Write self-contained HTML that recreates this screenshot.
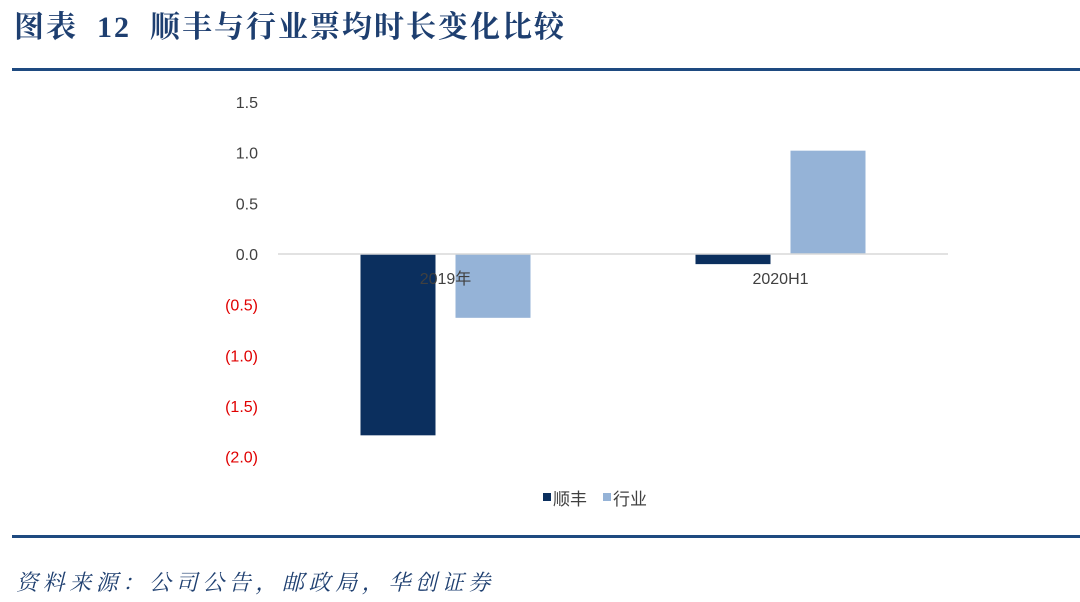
<!DOCTYPE html>
<html><head><meta charset="utf-8"><style>
body{margin:0;width:1080px;height:602px;background:#fff;overflow:hidden;position:relative;font-family:"Liberation Sans","Noto Sans CJK SC",sans-serif}
#title{position:absolute;left:14px;top:2px;font:bold 30px "Liberation Serif","Noto Serif CJK SC",serif;color:#1e3f70;white-space:pre;letter-spacing:2px}
.rule{position:absolute;left:12px;right:0;background:#1e4a80}
#src{position:absolute;left:16px;top:566px;font:italic 22px "Liberation Serif","Noto Serif CJK SC",serif;color:#1e3f70;white-space:nowrap;letter-spacing:4.6px}
</style></head><body>
<div id="title">图表  12  顺丰与行业票均时长变化比较</div>
<div class="rule" style="top:68px;height:3px"></div>
<svg id="chart" width="1080" height="602" style="position:absolute;left:0;top:0"></svg>
<div class="rule" style="top:535px;height:3px"></div>
<div id="src">资料来源：公司公告，邮政局，华创证券</div>
<script>
const categories=["2019年","2020H1"];
const sfValues=[-1.79,-0.10];
const industryValues=[-0.63,1.02];
const tickValues=[1.5,1.0,0.5,0.0,-0.5,-1.0,-1.5,-2.0];
const tickLabels=["1.5","1.0","0.5","0.0","(0.5)","(1.0)","(1.5)","(2.0)"];
const seriesNames=["顺丰","行业"];
const NS="http://www.w3.org/2000/svg";
const svg=document.getElementById('chart');
const x0=278,x1=948,zeroY=254,pxPerUnit=101.3;
const y=v=>zeroY-v*pxPerUnit;
const bandW=(x1-x0)/categories.length;
const colors=["#0b2f5e","#95b3d7"];
function mk(t,a){const e=document.createElementNS(NS,t);for(const k in a)e.setAttribute(k,a[k]);svg.appendChild(e);return e;}
tickValues.forEach((v,i)=>{
 const t=mk('text',{x:258,y:y(v)+6,'text-anchor':'end','font-size':16,fill:v<0?'#e00000':'#404040','font-family':'Liberation Sans, sans-serif'});
 t.textContent=tickLabels[i];
 
 
});
[sfValues,industryValues].forEach((vals,s)=>{
 vals.forEach((v,i)=>{
  const cx=x0+bandW*(i+0.5);
  const bx=s===0?cx-85:cx+10;
  const r=mk('rect',{x:bx,y:Math.min(y(v),zeroY),width:75,height:Math.abs(y(v)-zeroY),fill:colors[s]});
  
  
 });
});
const ax=mk('line',{x1:x0,x2:x1,y1:zeroY,y2:zeroY,stroke:'#d9d9d9','stroke-width':1.5});


categories.forEach((c,i)=>{
 const t=mk('text',{x:x0+bandW*(i+0.5),y:zeroY+30,'text-anchor':'middle','font-size':16,fill:'#404040','font-family':'Liberation Sans, Noto Sans CJK SC, sans-serif'});
 t.textContent=c;
 
 
});
const lx=[543,603];
seriesNames.forEach((n,i)=>{
 const r=mk('rect',{x:lx[i],y:493,width:8,height:8,fill:colors[i]});
 
 
 const t=mk('text',{x:lx[i]+10,y:505,'font-size':17,fill:'#404040','font-family':'Liberation Sans, Noto Sans CJK SC, sans-serif'});
 t.textContent=n;
 
 
});
</script>
</body></html>
